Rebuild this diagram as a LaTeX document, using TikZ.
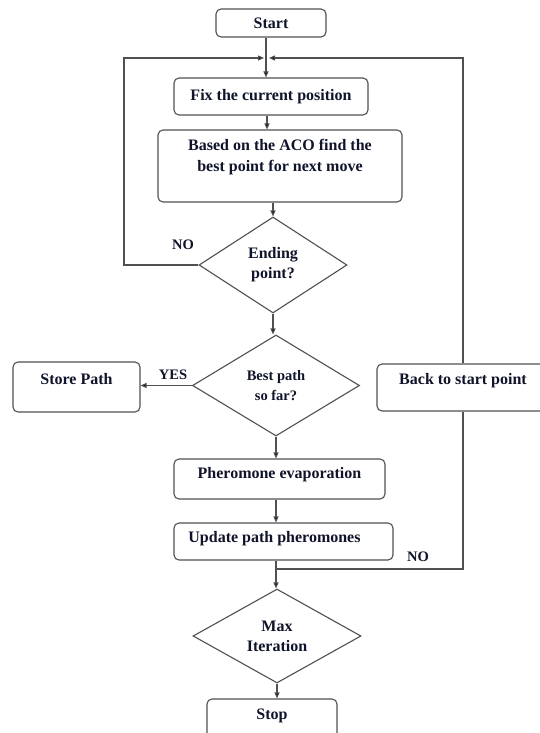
\documentclass[tikz,border=0pt]{standalone}
\usepackage{fontspec}
\setmainfont{Liberation Serif}
\usetikzlibrary{shapes.geometric,arrows.meta}
\definecolor{edge}{HTML}{505050}
\definecolor{txtc}{HTML}{10142A}
\tikzset{
  box/.style={draw=edge,line width=1.1pt,rounded corners=5pt,fill=white,inner sep=0pt},
  dia/.style={draw=edge,line width=1.1pt,diamond,fill=white,inner sep=0pt,align=center,
    text=txtc,font=\fontsize{16}{20}\selectfont\bfseries},
  txt/.style={text=txtc,font=\fontsize{16}{21}\selectfont\bfseries,align=center,inner sep=0pt},
  lbl/.style={text=txtc,font=\fontsize{14.5}{18}\selectfont\bfseries,inner sep=0pt},
  conn/.style={draw=edge,line width=1.1pt},
  arr/.style={conn,-{Triangle[length=6pt,width=5pt,fill=black]}}
}
\begin{document}
\begin{tikzpicture}[x=1pt,y=-1pt]
\useasboundingbox[fill=white] (0,0) rectangle (539,733);
% boxes
\node[box,minimum width=110pt,minimum height=28pt] (start) at (271,23) {};
\node[txt] (startt) at (start.center) {Start};
\node[box,minimum width=194pt,minimum height=37pt] (fix) at (271,96.5) {};
\node[txt] (fixt) at (fix.center) {Fix the current position};
\node[box,minimum width=244pt,minimum height=72pt] (aco) at (280,166) {};
\node[txt] (acot) at ([yshift=8.5pt]aco.center) {Based on the ACO find the\\best point for next move};
\node[dia,minimum width=148pt,minimum height=96pt] (endd) at (273,265) {Ending\\point?};
\node[dia,minimum width=167pt,minimum height=101pt,font=\fontsize{14.5}{20}\selectfont\bfseries] (best) at (276,385.5) {Best path\\so far?};
\node[box,minimum width=127pt,minimum height=50pt] (store) at (76.5,387) {};
\node[txt] (storet) at ([yshift=8pt]store.center) {Store Path};
\node[box,minimum width=172pt,minimum height=47pt] (back) at (463,387.5) {};
\node[txt] (backt) at ([yshift=6.5pt]back.center) {Back to start point};
\node[box,minimum width=211pt,minimum height=40pt] (pher) at (279.5,479) {};
\node[txt] (phert) at ([yshift=4pt]pher.center) {Pheromone evaporation};
\node[box,minimum width=219pt,minimum height=37pt] (upd) at (283.5,541.5) {};
\node[txt] (updt) at ([xshift=-9pt,yshift=2.5pt]upd.center) {Update path pheromones};
\node[dia,minimum width=168pt,minimum height=94pt] (maxd) at (277,636) {Max\\Iteration};
\node[box,minimum width=130pt,minimum height=44pt] (stop) at (272,721) {};
\node[txt] (stopt) at ([yshift=5pt]stop.center) {Stop};
% junctions
\coordinate (jt) at (266,58);
\coordinate (jb) at (276,569);
\coordinate (lc) at (124,58);
% connectors
\draw[conn] (start.south -| jt) -- (jt);
\draw[arr] (jt) -- (jt |- fix.north);
\draw[arr] ([xshift=1pt]jt |- fix.south) -- ([xshift=1pt]jt |- aco.north);
\draw[arr] (endd.north |- aco.south) -- (endd.north);
\draw[arr] (endd.south) -- (endd.south |- best.north);
\draw[arr,shorten >=2pt] (endd.west) -| (lc) -- (jt);
\draw[arr] (best.west) -- (best.west -| store.east);
\draw[arr] (best.south) -- (best.south |- pher.north);
\draw[arr] (best.south |- pher.south) -- (best.south |- upd.north);
\draw[conn] (jb |- upd.south) -- (jb);
\draw[arr] (jb) -- (jb |- maxd.north);
\draw[conn] (jb) -| (back.south);
\draw[arr,shorten >=3pt] (back.north) |- (jt);
\draw[arr] (maxd.south) -- (maxd.south |- stop.north);
% labels
\node[lbl] (no1) at (183,245) {NO};
\node[lbl] (yes) at (173,375) {YES};
\node[lbl] (no2) at (418,557) {NO};
\end{tikzpicture}
\end{document}
